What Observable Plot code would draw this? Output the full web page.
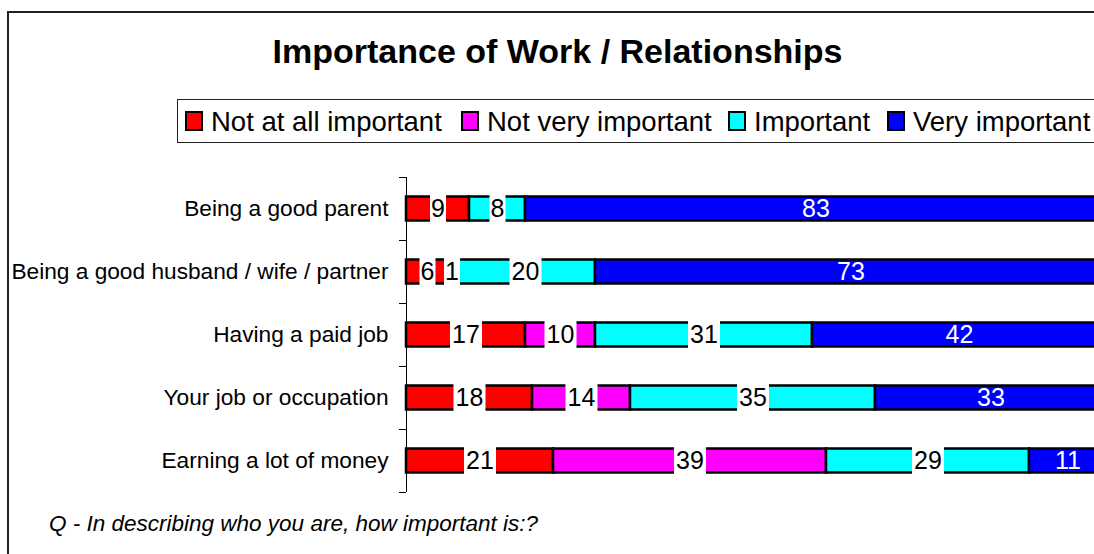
<!DOCTYPE html>
<html>
<head>
<meta charset="utf-8">
<script src="https://cdn.jsdelivr.net/npm/d3@7"></script>
<script src="https://cdn.jsdelivr.net/npm/@observablehq/plot@0.6"></script>
<style>
  html, body { margin: 0; padding: 0; background: white; }
  body { width: 1094px; height: 554px; overflow: hidden; position: relative; font-family: "Liberation Sans", Arial, sans-serif; }
  #frame { position: absolute; left: 7px; top: 11px; width: 1200px; height: 600px; border: 2px solid #222; box-sizing: border-box; }
  #title { position: absolute; left: 0; top: 34px; width: 1115px; text-align: center; font-weight: bold; font-size: 34px; line-height: 34px; white-space: nowrap; }
  #legend { position: absolute; left: 177px; top: 99px; width: 1000px; height: 42px; border: 1px solid #222; background: white; font-size: 27.5px; white-space: nowrap; line-height: 42px; }
  .sw { position: absolute; top: 11px; width: 14px; height: 16px; border: 2px solid black; }
  .lt { position: absolute; top: 1px; }
  #note { position: absolute; left: 49px; top: 513px; font-size: 22.5px; line-height: 22.5px; font-style: italic; white-space: nowrap; }
  #chart { position: absolute; left: 0; top: 0; }
</style>
</head>
<body>
<div id="frame"></div>
<div id="chart"></div>
<div id="title"></div>
<div id="legend"></div>
<div id="note"></div>
<script>
const titleText = "Importance of Work / Relationships";
const noteText = "Q - In describing who you are, how important is:?";
const categories = ["Being a good parent", "Being a good husband / wife / partner", "Having a paid job", "Your job or occupation", "Earning a lot of money"];
const seriesNames = ["Not at all important", "Not very important", "Important", "Very important"];
const seriesColors = ["#FF0000", "#FF00FF", "#00FFFF", "#0000FF"];
const notAtAll = [9, 6, 17, 18, 21];
const notVery = [0, 1, 10, 14, 39];
const important = [8, 20, 31, 35, 29];
const veryImportant = [83, 73, 42, 33, 11];
const seriesValues = [notAtAll, notVery, important, veryImportant];

const rows = [];
categories.forEach((c, i) => seriesValues.forEach((vals, j) => rows.push({category: c, series: seriesNames[j], value: vals[i]})));

document.getElementById("title").textContent = titleText;
document.getElementById("note").textContent = noteText;
const legend = document.getElementById("legend");
const legendSwatchX = [7, 283, 550, 709];
seriesNames.forEach((s, j) => {
  const sw = document.createElement("span");
  sw.className = "sw";
  sw.style.background = seriesColors[j];
  sw.style.left = legendSwatchX[j] + "px";
  const t = document.createElement("span");
  t.className = "lt";
  t.textContent = s;
  t.style.left = (legendSwatchX[j] + 26) + "px";
  legend.appendChild(sw); legend.appendChild(t);
});

const isBlue = d => d.series === seriesNames[3];

const chart = Plot.plot({
  width: 1094,
  height: 554,
  marginLeft: 406,
  marginRight: 0,
  marginTop: 177,
  marginBottom: 62,
  style: {background: "none", overflow: "hidden", fontFamily: "'Liberation Sans', Arial, sans-serif", fontSize: "22.7px", color: "black"},
  x: {domain: [0, 100], range: [406, 1106], axis: null},
  y: {domain: categories, padding: 0},
  color: {domain: seriesNames, range: seriesColors},
  marks: [
    Plot.ruleX([0], {stroke: "black", strokeWidth: 1}),
    Plot.barX(rows, Plot.stackX({x: "value", y: "category", fill: "series", stroke: "black", strokeWidth: 2.5, insetTop: 19.5, insetBottom: 19.5})),
    Plot.tickX(rows, Plot.stackX({x: "value", y: "category", stroke: "white", strokeWidth: d => (isBlue(d) || d.value === 0) ? 0 : String(d.value).length * 16, insetTop: 17, insetBottom: 17})),
    Plot.text(rows, Plot.stackX({x: "value", y: "category", text: d => (!isBlue(d) && d.value > 0) ? String(d.value) : null, fill: "black", fontSize: 25})),
    Plot.text(rows, Plot.stackX({x: "value", y: "category", text: d => (isBlue(d) && d.value > 0) ? String(d.value) : null, fill: "white", fontSize: 25})),
    Plot.axisY({tickSize: 0, tickPadding: 18, label: null}),
    Plot.axisY({tickSize: 7, fill: "none", dy: -31.5, label: null}),
    Plot.axisY([categories[categories.length - 1]], {tickSize: 7, fill: "none", dy: 31.5, label: null})
  ]
});
document.getElementById("chart").appendChild(chart);
</script>
</body>
</html>
